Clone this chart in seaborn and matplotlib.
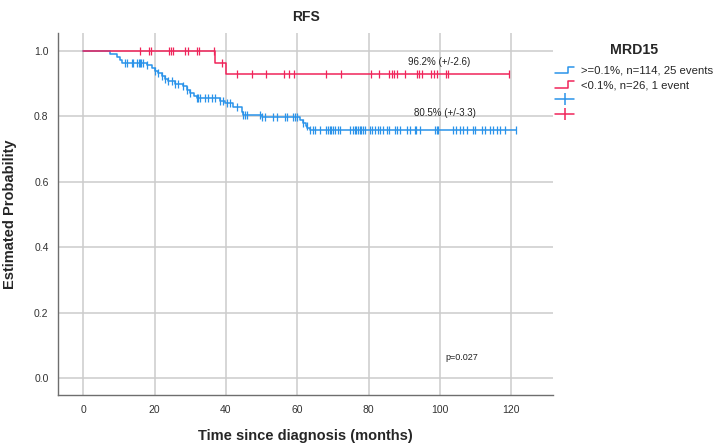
import numpy as np
import pandas as pd
import matplotlib
matplotlib.use("Agg")
import matplotlib.pyplot as plt
import seaborn as sns
from matplotlib.lines import Line2D
from matplotlib.legend_handler import HandlerBase

# ---------------- data ----------------
group_labels = [">=0.1%, n=114, 25 events", "<0.1%, n=26, 1 event"]

blue_event_times = [7.5, 9.5, 10.2, 10.8, 17.8, 19.2, 20.1, 21.0, 22.0, 22.9, 23.8,
                    25.7, 28.0, 29.0, 29.9, 31.0, 31.8, 38.3, 39.7, 42.0, 44.4, 44.9,
                    50.0, 60.8, 61.7, 62.4, 62.8, 63.5]
blue_surv = [0.991, 0.982, 0.973, 0.964, 0.957, 0.947, 0.940, 0.932, 0.925, 0.915, 0.908,
             0.900, 0.892, 0.881, 0.871, 0.862, 0.855, 0.847, 0.840, 0.830, 0.815, 0.804,
             0.797, 0.789, 0.781, 0.772, 0.764, 0.759]
blue_censor = [11.7, 12.4, 13.6, 14.0, 15.0, 15.7, 15.9, 16.2, 16.8, 17.8, 20.1, 21.0,
               22.0, 22.9, 23.8, 24.8, 25.7, 26.6, 28.0, 29.0, 29.9, 31.8, 32.2, 32.7,
               34.1, 35.0, 36.0, 36.9, 38.3, 39.3, 40.2, 41.1, 43.0, 44.9, 45.3, 45.8,
               49.5, 50.0, 51.0, 53.3, 54.2, 56.5, 57.0, 58.9, 59.4, 59.8, 61.7, 62.6,
               63.6, 64.5, 65.0, 66.4, 68.2, 68.7, 69.2, 69.6, 70.1, 70.6, 71.5, 72.0,
               74.8, 75.5, 76.2, 76.6, 77.1, 77.6, 78.0, 78.5, 79.0, 80.4, 81.1, 81.8,
               82.7, 83.2, 84.1, 85.1, 85.8, 87.4, 87.9, 88.8, 90.7, 91.6, 93.0, 93.4,
               94.4, 98.6, 99.1, 99.5, 103.7, 104.5, 105.6, 106.5, 107.5, 109.3, 109.8,
               111.7, 112.6, 114.0, 114.9, 115.9, 116.8, 118.2, 121.3]
blue_end = 121.3

red_event_times = [37.0, 40.0]
red_surv = [0.964, 0.931]
red_censor = [15.9, 18.4, 19.0, 24.1, 24.6, 25.2, 28.5, 29.3, 32.0, 32.5, 36.6, 39.0,
              43.0, 47.2, 51.2, 56.4, 57.8, 59.2, 68.0, 72.2, 80.6, 83.0, 85.8, 86.5,
              87.2, 87.9, 90.2, 93.6, 94.2, 95.1, 97.5, 98.4, 99.2, 101.6, 102.2, 119.4]
red_end = 119.4

annot_texts = ["96.2% (+/-2.6)", "80.5% (+/-3.3)", "p=0.027"]

x_ticks = [0, 20, 40, 60, 80, 100, 120]
y_ticks = [0.0, 0.2, 0.4, 0.6, 0.8, 1.0]

# ---------------- style ----------------
BLUE = "#2a93ea"
RED = "#f0245a"

sns.set_theme(style="whitegrid")
plt.rcParams["font.family"] = ["Liberation Sans", "DejaVu Sans"]
plt.rcParams["axes.edgecolor"] = "#6e6e6e"
plt.rcParams["grid.color"] = "#cccccc"


def curve_frame(times, surv, end):
    t = [0.0] + list(times) + [end]
    s = [1.0] + list(surv) + [surv[-1]]
    return pd.DataFrame({"time": t, "surv": s})


def censor_frame(times, surv, cens):
    t_arr = np.array([0.0] + list(times))
    s_arr = np.array([1.0] + list(surv))
    idx = np.searchsorted(t_arr, np.array(cens), side="right") - 1
    return pd.DataFrame({"time": cens, "surv": s_arr[idx]})


fig = plt.figure(figsize=(7.16, 4.43), dpi=100)
ax = fig.add_axes([0.0814, 0.1084, 0.6914, 0.8171])

for times, surv, end, cens, col in [
    (blue_event_times, blue_surv, blue_end, blue_censor, BLUE),
    (red_event_times, red_surv, red_end, red_censor, RED),
]:
    df = curve_frame(times, surv, end)
    sns.lineplot(data=df, x="time", y="surv", drawstyle="steps-post", estimator=None,
                 sort=False, color=col, lw=1.1, ax=ax, legend=False)
    cf = censor_frame(times, surv, cens)
    sns.scatterplot(data=cf, x="time", y="surv", marker="|", s=28, color=col,
                    linewidth=0.9, ax=ax, legend=False, zorder=3)

ax.set_xlim(-7.0, 131.8)
ax.set_ylim(-0.051, 1.055)
ax.set_xticks(x_ticks)
ax.set_yticks(y_ticks)
ax.set_yticklabels([f"{v:.1f}" for v in y_ticks])
ax.tick_params(axis="both", length=0, labelsize=7.5, colors="#333333", pad=7)
ax.grid(True, color="#cccccc", lw=1.1)
for side in ["top", "right"]:
    ax.spines[side].set_visible(False)
for side in ["left", "bottom"]:
    ax.spines[side].set_color("#6e6e6e")
    ax.spines[side].set_linewidth(1.0)

ax.set_xlabel("Time since diagnosis (months)", fontsize=10.5, fontweight="bold", labelpad=10)
ax.set_ylabel("Estimated Probability", fontsize=10.5, fontweight="bold", labelpad=12)
ax.set_title("RFS", fontsize=10, fontweight="bold", pad=9)

ax.text(99.8, 0.966, annot_texts[0], fontsize=7, ha="center", va="center", color="#222222")
ax.text(101.5, 0.810, annot_texts[1], fontsize=7, ha="center", va="center", color="#222222")
ax.text(106.0, 0.062, annot_texts[2], fontsize=6.5, ha="center", va="center", color="#222222")


class StepHandler(HandlerBase):
    def create_artists(self, legend, orig_handle, xdescent, ydescent, width, height,
                       fontsize, trans):
        xs = np.array([0, 0.68, 0.68, 1.0]) * width - xdescent
        ys = np.array([0.05, 0.05, 0.85, 0.85]) * height - ydescent
        ln = Line2D(xs, ys, color=orig_handle.get_color(), lw=1.1)
        ln.set_transform(trans)
        return [ln]


h_blue_step = Line2D([], [], color=BLUE)
h_red_step = Line2D([], [], color=RED)
h_blue_cross = Line2D([], [], color=BLUE, lw=1.1, marker="|", markersize=8, mew=1.1)
h_red_cross = Line2D([], [], color=RED, lw=1.1, marker="|", markersize=8, mew=1.1)

leg = fig.legend(
    [h_blue_step, h_red_step, h_blue_cross, h_red_cross],
    [group_labels[0], group_labels[1], "", ""],
    handler_map={h_blue_step: StepHandler(), h_red_step: StepHandler()},
    loc="upper left", bbox_to_anchor=(0.772, 0.908), frameon=False,
    title="MRD15", fontsize=8.2, handlelength=1.7, handletextpad=0.6,
    labelspacing=0.42, borderaxespad=0, borderpad=0.2,
)
leg.get_title().set_fontweight("bold")
leg.get_title().set_fontsize(10.2)
leg._legend_box.sep = 6

fig.savefig("out.png", dpi=100)
